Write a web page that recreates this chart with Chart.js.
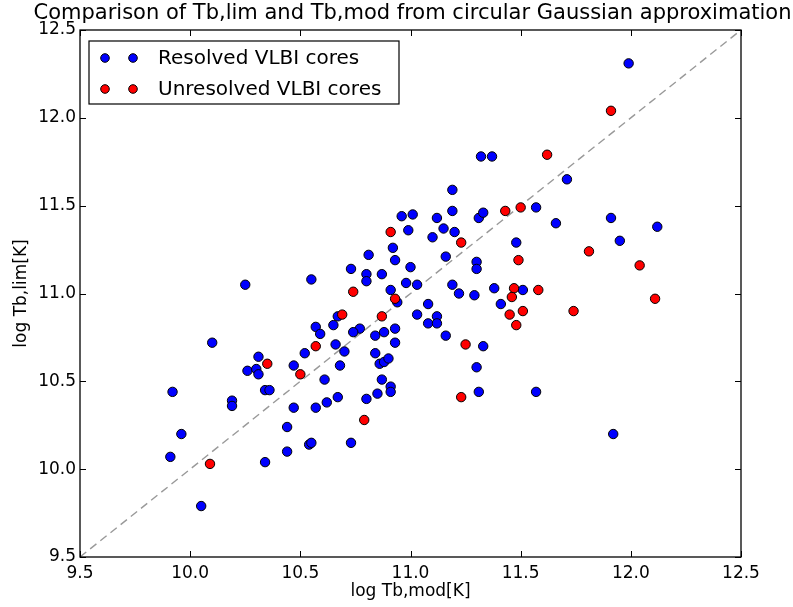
<!DOCTYPE html>
<html>
<head>
<meta charset="utf-8">
<script src="https://cdn.jsdelivr.net/npm/chart.js@4"></script>
<style>
  html, body { margin: 0; padding: 0; background: #fff; }
  #container { width: 793px; height: 607px; }
</style>
</head>
<body>
<div id="container"><canvas id="chartContainer" width="793" height="607"></canvas></div>
<script>
const resolvedX = [
    11.32, 11.37, 11.19, 11.19, 10.96, 11.01, 11.12, 11.31, 11.33, 10.99,
    11.15, 11.10, 11.20, 10.92, 11.48, 10.81, 11.16, 10.93, 11.30, 11.30,
    10.73, 11.00, 10.55, 10.80, 10.80, 10.87, 10.98, 11.03, 10.91, 11.19,
    11.22, 11.29, 11.38, 11.51, 10.94, 11.08, 11.41, 10.67, 11.03, 11.12,
    11.08, 11.12, 10.57, 10.59, 10.65, 10.77, 10.74, 10.93, 10.84, 10.88,
    10.93, 11.16, 10.66, 11.33, 10.10, 10.25, 10.70, 10.52, 10.84, 10.86,
    10.88, 10.90, 10.68, 10.61, 10.87, 10.91, 10.91, 11.30, 11.31, 10.57,
    10.62, 10.67, 10.80, 10.85, 10.54, 10.55, 10.73, 10.31, 10.26, 10.30,
    10.31, 10.47, 9.92, 10.34, 10.36, 10.19, 10.19, 10.47, 9.96, 10.44,
    9.91, 10.34, 10.44, 10.05, 11.99, 11.71, 11.57, 11.66, 11.91, 12.12,
    11.95, 11.57, 11.92,
];
const resolvedY = [
    11.78, 11.78, 11.59, 11.47, 11.44, 11.45, 11.43, 11.43, 11.46, 11.36,
    11.37, 11.32, 11.35, 11.26, 11.29, 11.22, 11.21, 11.19, 11.18, 11.14,
    11.14, 11.15, 11.08, 11.11, 11.07, 11.11, 11.06, 11.05, 11.02, 11.05,
    11.00, 10.99, 11.03, 11.02, 10.95, 10.94, 10.94, 10.87, 10.88, 10.87,
    10.83, 10.83, 10.81, 10.77, 10.82, 10.80, 10.78, 10.80, 10.76, 10.78,
    10.72, 10.76, 10.71, 10.70, 10.72, 11.05, 10.67, 10.66, 10.66, 10.60,
    10.61, 10.63, 10.59, 10.51, 10.51, 10.47, 10.44, 10.58, 10.44, 10.35,
    10.38, 10.41, 10.40, 10.43, 10.14, 10.15, 10.15, 10.64, 10.56, 10.57,
    10.54, 10.59, 10.44, 10.45, 10.45, 10.39, 10.36, 10.35, 10.20, 10.24,
    10.07, 10.04, 10.10, 9.79, 12.31, 11.65, 11.49, 11.40, 11.43, 11.38,
    11.30, 10.44, 10.20,
];
const unresolvedX = [
    11.43, 11.50, 10.91, 11.23, 11.49, 10.74, 11.47, 11.46, 10.93, 10.69,
    10.87, 11.45, 11.51, 11.48, 10.57, 11.25, 11.91, 11.62, 11.81, 12.04,
    11.58, 11.74, 12.11, 10.35, 10.50, 10.09, 10.79, 11.23,
];
const unresolvedY = [
    11.47, 11.49, 11.35, 11.29, 11.19, 11.01, 11.03, 10.98, 10.97, 10.88,
    10.87, 10.88, 10.90, 10.82, 10.70, 10.71, 12.04, 11.79, 11.24, 11.16,
    11.02, 10.90, 10.97, 10.60, 10.54, 10.03, 10.28, 10.41,
];
const oneToOne = [9.5, 12.5];
const tickValues = [9.5, 10.0, 10.5, 11.0, 11.5, 12.0, 12.5];
const chartTitle = 'Comparison of Tb,lim and Tb,mod from circular Gaussian approximation';

function toPoints(xs, ys) {
    return xs.map((x, i) => ({ x: x, y: ys[i] }));
}

const font = 'DejaVu Sans';

// matplotlib style frame, inward ticks on all four sides, title over the axes and the legend box
const mplFrame = {
    id: 'mplFrame',
    afterDraw(chart) {
        const ctx = chart.ctx;
        const a = chart.chartArea;
        const xs = chart.scales.x;
        const ys = chart.scales.y;
        ctx.save();
        ctx.strokeStyle = '#000';
        ctx.lineWidth = 1;
        tickValues.forEach(v => {
            const px = Math.round(xs.getPixelForValue(v)) + 0.5;
            ctx.beginPath();
            ctx.moveTo(px, a.bottom); ctx.lineTo(px, a.bottom - 6);
            ctx.moveTo(px, a.top); ctx.lineTo(px, a.top + 6);
            ctx.stroke();
            const py = Math.round(ys.getPixelForValue(v)) + 0.5;
            ctx.beginPath();
            ctx.moveTo(a.left, py); ctx.lineTo(a.left + 6, py);
            ctx.moveTo(a.right, py); ctx.lineTo(a.right - 6, py);
            ctx.stroke();
        });
        ctx.lineWidth = 1.3;
        ctx.strokeRect(a.left, a.top, a.right - a.left, a.bottom - a.top);

        // title centred over the axes
        ctx.fillStyle = '#000';
        ctx.font = '21px "' + font + '"';
        ctx.textAlign = 'center';
        ctx.textBaseline = 'middle';
        ctx.fillText(chartTitle, (a.left + a.right) / 2 + 2, 14);

        // legend: two markers per entry, like matplotlib
        const bx = a.left + 9, by = a.top + 11, bw = 310, bh = 63;
        ctx.fillStyle = '#fff';
        ctx.fillRect(bx, by, bw, bh);
        ctx.lineWidth = 1.2;
        ctx.strokeRect(bx, by, bw, bh);
        ctx.font = '20px "' + font + '"';
        ctx.textAlign = 'left';
        const sets = chart.data.datasets.filter(d => d.showInLegend);
        sets.forEach((d, i) => {
            const cy = by + 17 + i * 31;
            [bx + 16, bx + 44].forEach(cx => {
                ctx.beginPath();
                ctx.arc(cx, cy, 4.3, 0, Math.PI * 2);
                ctx.fillStyle = d.backgroundColor;
                ctx.fill();
                ctx.lineWidth = 1;
                ctx.strokeStyle = '#000';
                ctx.stroke();
            });
            ctx.fillStyle = '#000';
            ctx.fillText(d.label, bx + 69, cy + 1);
        });
        ctx.restore();
    }
};

const data = {
    datasets: [{
        type: 'line',
        label: '1:1',
        data: toPoints(oneToOne, oneToOne),
        borderColor: '#999999',
        borderWidth: 1.4,
        borderDash: [8, 5],
        pointRadius: 0,
        order: 3,
    }, {
        label: 'Resolved VLBI cores',
        data: toPoints(resolvedX, resolvedY),
        backgroundColor: '#0000ff',
        borderColor: '#000000',
        borderWidth: 1,
        pointRadius: 4.7,
        showInLegend: true,
        order: 2,
    }, {
        label: 'Unresolved VLBI cores',
        data: toPoints(unresolvedX, unresolvedY),
        backgroundColor: '#ff0000',
        borderColor: '#000000',
        borderWidth: 1,
        pointRadius: 4.7,
        showInLegend: true,
        order: 1,
    }]
};

const config = {
    type: 'scatter',
    data: data,
    options: {
        responsive: false,
        animation: false,
        layout: { padding: { left: 0, right: 52, top: 30, bottom: 0 } },
        plugins: {
            legend: { display: false },
            tooltip: { enabled: false },
            title: { display: false },
        },
        scales: {
            x: {
                type: 'linear',
                min: 9.5,
                max: 12.5,
                afterBuildTicks: s => { s.ticks = tickValues.map(v => ({ value: v })); },
                afterFit: s => { s.height = 50; },
                grid: { display: false, drawTicks: false },
                border: { display: false },
                ticks: {
                    color: '#000',
                    padding: 6,
                    maxRotation: 0,
                    font: { family: font, size: 17 },
                    callback: v => v.toFixed(1),
                },
                title: {
                    display: true,
                    text: 'log Tb,mod[K]',
                    color: '#000',
                    font: { family: font, size: 17 },
                    padding: { top: 0, bottom: 5 },
                },
            },
            y: {
                type: 'linear',
                min: 9.5,
                max: 12.5,
                afterBuildTicks: s => { s.ticks = tickValues.map(v => ({ value: v })); },
                afterFit: s => { s.width = 80; },
                grid: { display: false, drawTicks: false },
                border: { display: false },
                ticks: {
                    color: '#000',
                    padding: 4,
                    font: { family: font, size: 17 },
                    callback: v => v.toFixed(1),
                },
                title: {
                    display: true,
                    text: 'log Tb,lim[K]',
                    color: '#000',
                    font: { family: font, size: 17 },
                    padding: { top: 11, bottom: 0 },
                },
            },
        },
    },
    plugins: [mplFrame],
};

const myChart = new Chart(document.getElementById('chartContainer'), config);
</script>
</body>
</html>
